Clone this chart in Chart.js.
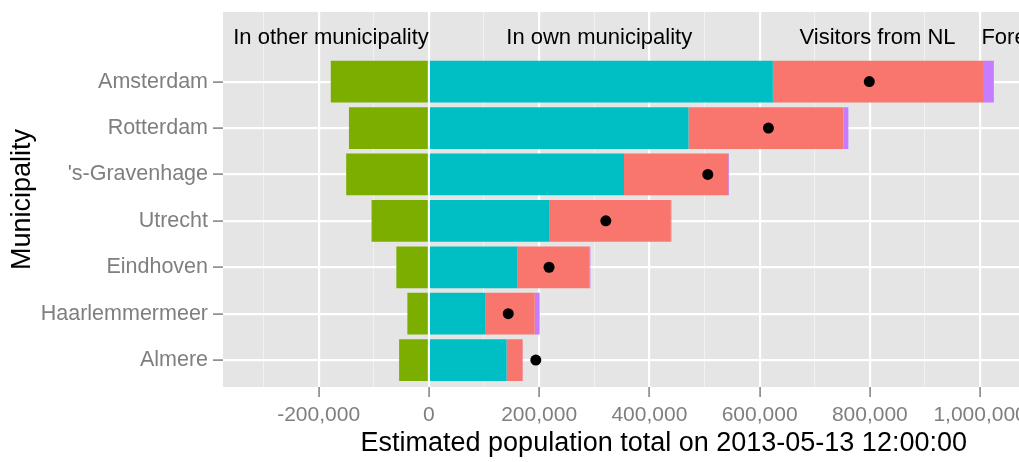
<!DOCTYPE html>
<html><head><meta charset="utf-8">
<script src="https://cdn.jsdelivr.net/npm/chart.js@4.4.0/dist/chart.umd.min.js"></script>
<style>
html,body{margin:0;padding:0;background:#fff;overflow:hidden;width:1019px;height:462px;}
#wrap{width:1110px;height:462px;}
</style></head><body>
<div id="wrap"><canvas id="c" width="1110" height="462" style="width:1110px;height:462px"></canvas></div>
<script>
// ---- data ----
const municipalities = ['Amsterdam', 'Rotterdam', "'s-Gravenhage", 'Utrecht', 'Eindhoven', 'Haarlemmermeer', 'Almere'];
const inOtherMunicipality = [-178000, -145000, -150000, -104000, -59000, -39000, -54000];
const inOwnMunicipality   = [624000, 471000, 354000, 218000, 161000, 103000, 141000];
const visitorsFromNL      = [383000, 281000, 189000, 221000, 130000, 89000, 29000];
const foreignVisitors     = [18000, 9000, 1500, 1000, 2000, 9000, 500];
const registeredPopulation = [799000, 616000, 506000, 321000, 218000, 144000, 194000];
const xTickValues = [-300000, -200000, -100000, 0, 100000, 200000, 300000, 400000, 500000, 600000, 700000, 800000, 900000, 1000000, 1100000, 1200000];
const xMajorTicks = [-200000, 0, 200000, 400000, 600000, 800000, 1000000];
const groupLabels = ['In other municipality', 'In own municipality', 'Visitors from NL', 'Foreign'];
const groupLabelX = [-177500, 309000, 814000, 1070000];
const groupLabelRow = -0.81;

const FONT = '"Liberation Sans", Arial, sans-serif';

const panelBg = {
  id: 'panelBg',
  beforeDraw(chart) {
    const {ctx, chartArea: a} = chart;
    ctx.save();
    ctx.fillStyle = '#E5E5E5';
    ctx.fillRect(a.left, a.top, a.right - a.left, a.bottom - a.top);
    ctx.restore();
  }
};
const groupLabelPlugin = {
  id: 'groupLabels',
  afterDatasetsDraw(chart) {
    const {ctx, scales: {x, y}} = chart;
    ctx.save();
    ctx.font = '22px ' + FONT;
    ctx.fillStyle = '#000';
    ctx.textAlign = 'center';
    ctx.textBaseline = 'alphabetic';
    groupLabels.forEach((t, i) => ctx.fillText(t, x.getPixelForValue(groupLabelX[i]), y.getPixelForValue(groupLabelRow)));
    ctx.restore();
  }
};

const rows = municipalities.map((_, i) => i);
function barSet(label, values, color) {
  return {
    type: 'bar', label, indexAxis: 'y', order: 1,
    data: values.map((v, i) => ({x: v, y: rows[i]})),
    backgroundColor: color, borderWidth: 0,
    categoryPercentage: 1, barPercentage: 0.9
  };
}

new Chart(document.getElementById('c'), {
  type: 'bar',
  data: {
    datasets: [
      {
        type: 'scatter', label: 'Population', order: 0, stack: 'dots',
        data: registeredPopulation.map((v, i) => ({x: v, y: rows[i]})),
        backgroundColor: '#000', borderWidth: 0, pointRadius: 5.5
      },
      barSet('In other municipality', inOtherMunicipality, '#7CAE00'),
      barSet('In own municipality', inOwnMunicipality, '#00BFC4'),
      barSet('Visitors from NL', visitorsFromNL, '#F8766D'),
      barSet('Foreign', foreignVisitors, '#C77CFF')
    ]
  },
  options: {
    indexAxis: 'y',
    responsive: false, animation: false, events: [],
    layout: {padding: {left: 0, top: 12, right: 5, bottom: 0}},
    plugins: {legend: {display: false}, tooltip: {enabled: false}},
    scales: {
      x: {
        type: 'linear', stacked: true, offset: false, beginAtZero: false, min: -373500, max: 1225700,
        afterBuildTicks: s => { s.ticks = xTickValues.map(v => ({value: v})); },
        afterFit: s => { s.height = 75; s.paddingLeft = 0; s.paddingRight = 0; },
        border: {display: false},
        grid: {
          offset: false,
          color: c => (c.tick && xMajorTicks.includes(c.tick.value)) ? '#FFFFFF' : '#F2F2F2',
          lineWidth: c => (c.tick && xMajorTicks.includes(c.tick.value)) ? 2.2 : 1,
          tickColor: c => (c.tick && xMajorTicks.includes(c.tick.value)) ? '#7F7F7F' : 'rgba(0,0,0,0)',
          tickWidth: 1.5, tickLength: 10
        },
        ticks: {
          autoSkip: false, maxRotation: 0, padding: 6,
          color: '#7F7F7F', font: {family: FONT, size: 21},
          callback: v => xMajorTicks.includes(v) ? v.toLocaleString('en-US') : ''
        },
        title: {display: true, text: 'Estimated population total on 2013-05-13 12:00:00',
          color: '#000', font: {family: FONT, size: 27}, padding: {top: 0, bottom: 2}}
      },
      y: {
        type: 'linear', stacked: true, offset: false, reverse: true, beginAtZero: false, min: -1.5, max: 6.58,
        afterBuildTicks: s => { s.ticks = rows.map(v => ({value: v})); },
        afterFit: s => { s.width = 223; s.paddingTop = 0; s.paddingBottom = 0; },
        border: {display: false},
        grid: {offset: false, color: '#FFFFFF', lineWidth: 2.2, tickColor: '#7F7F7F', tickWidth: 1.5, tickLength: 10},
        ticks: {
          autoSkip: false, padding: 5, color: '#7F7F7F', font: {family: FONT, size: 21.5},
          callback: v => municipalities[v] ?? ''
        },
        title: {display: true, text: 'Municipality', color: '#000',
          font: {family: FONT, size: 27}, padding: {top: 6, bottom: 0}}
      }
    }
  },
  plugins: [panelBg, groupLabelPlugin]
});
</script>
</body></html>
